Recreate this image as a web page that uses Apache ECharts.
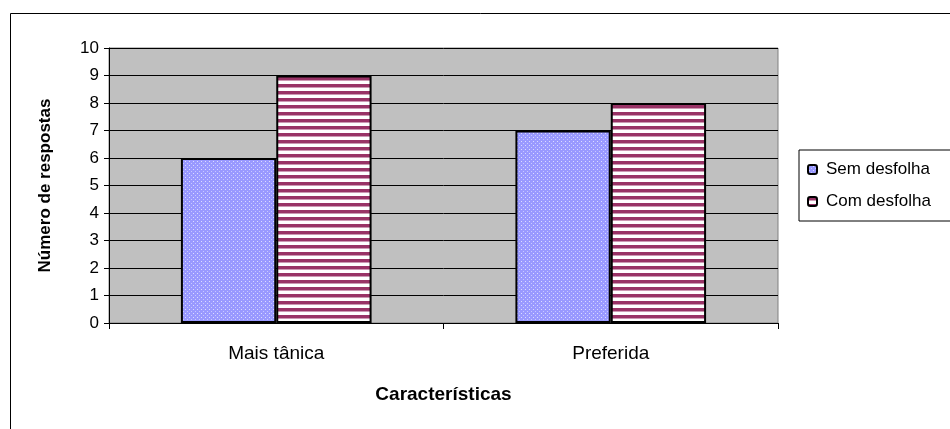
<!DOCTYPE html>
<html><head><meta charset="utf-8">
<script src="https://cdn.jsdelivr.net/npm/echarts@6/dist/echarts.min.js"></script>
<style>html,body{margin:0;padding:0;background:#fff}#c{width:950px;height:429px}</style>
</head><body><div id="c"></div>
<script>
var categories = ['Mais tânica', 'Preferida'];
var semDesfolha = [6, 7];
var comDesfolha = [9, 8];
var seriesNames = ['Sem desfolha', 'Com desfolha'];
var yMin = 0, yMax = 10, yStep = 1;

function dotPattern() {
  var c = document.createElement('canvas'); c.width = 4; c.height = 4;
  var g = c.getContext('2d');
  g.fillStyle = '#9999ff'; g.fillRect(0, 0, 4, 4);
  g.fillStyle = '#dcdcff'; g.fillRect(1, 1, 1, 1);
  g.fillStyle = '#c8c8ff'; g.fillRect(3, 3, 1, 1);
  return c;
}
function stripePattern() {
  var c = document.createElement('canvas'); c.width = 4; c.height = 7;
  var g = c.getContext('2d');
  g.fillStyle = '#ffffff'; g.fillRect(0, 0, 4, 7);
  g.fillStyle = '#993366'; g.fillRect(0, 0, 4, 3);
  g.fillStyle = '#cc99b3'; g.fillRect(0, 3, 4, 1);
  return c;
}
var chart = echarts.init(document.getElementById('c'));
var font = 'Liberation Sans, Arial, sans-serif';
chart.setOption({
  animation: false,
  backgroundColor: '#ffffff',
  graphic: [{type: 'rect', left: 8, top: 11, shape: {width: 1000, height: 500}, style: {fill: 'none', stroke: '#000', lineWidth: 1}, z: -10}],
  grid: {left: 109, right: 172, top: 48, bottom: 106, show: true, backgroundColor: '#c0c0c0', borderColor: '#808080', borderWidth: 1},
  legend: {
    orient: 'vertical', left: 799, top: 150, itemWidth: 9, itemHeight: 9, itemGap: 15,
    padding: [11, 40, 11, 8], backgroundColor: '#fff', borderColor: '#000', borderWidth: 1,
    textStyle: {fontFamily: font, fontSize: 17, color: '#000', padding: [0, 0, 0, 4]},
    data: seriesNames
  },
  xAxis: {
    type: 'category', data: categories,
    name: 'Características', nameLocation: 'middle', nameGap: 62,
    nameTextStyle: {fontFamily: font, fontSize: 19, fontWeight: 'bold', color: '#000'},
    axisLine: {lineStyle: {color: '#000', width: 1}},
    axisTick: {show: true, length: 6, lineStyle: {color: '#000'}},
    axisLabel: {fontFamily: font, fontSize: 19, color: '#000', margin: 21},
    splitLine: {show: false}
  },
  yAxis: {
    type: 'value', min: yMin, max: yMax, interval: yStep,
    name: 'Número de respostas', nameLocation: 'middle', nameGap: 55,
    nameTextStyle: {fontFamily: font, fontSize: 17, fontWeight: 'bold', color: '#000'},
    axisLine: {show: true, lineStyle: {color: '#000'}},
    axisTick: {show: true, length: 5, lineStyle: {color: '#000'}},
    axisLabel: {fontFamily: font, fontSize: 17, color: '#000', margin: 10},
    splitLine: {show: true, lineStyle: {color: '#000', width: 1}}
  },
  series: [
    {name: seriesNames[0], type: 'bar', data: semDesfolha, barGap: '0%', barCategoryGap: '43%',
     itemStyle: {color: {image: dotPattern(), repeat: 'repeat'}, borderColor: '#000', borderWidth: 2}},
    {name: seriesNames[1], type: 'bar', data: comDesfolha,
     itemStyle: {color: {image: stripePattern(), repeat: 'repeat'}, borderColor: '#000', borderWidth: 2}}
  ]
});
</script></body></html>
